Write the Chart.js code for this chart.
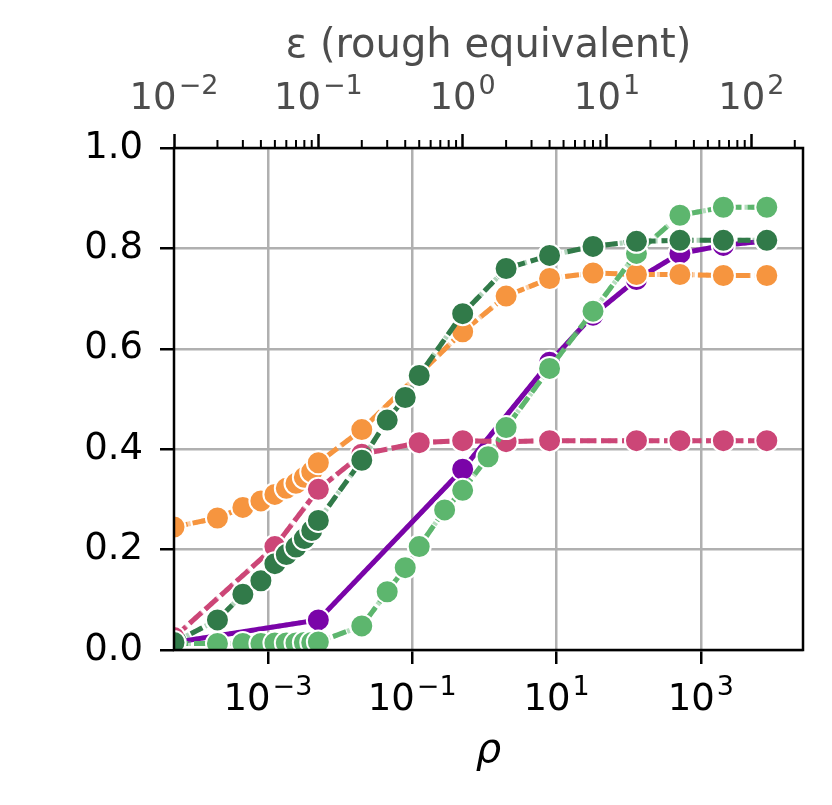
<!DOCTYPE html>
<html>
<head>
<meta charset="utf-8">
<script src="https://cdn.jsdelivr.net/npm/chart.js@4.4.1/dist/chart.umd.min.js"></script>
<style>
  html, body { margin: 0; padding: 0; background: #fff; }
  #wrap { width: 832px; height: 805px; }
</style>
</head>
<body>
<div id="wrap"><canvas id="chart" width="832" height="805"></canvas></div>
<script>
// rho values (each point sits at rho = eps^2 / 2 on the bottom axis)
const rhoPurple = [5e-5, 5e-3, 0.5, 8, 32, 128, 512, 2048, 8192];
const valPurple = [0.015, 0.06, 0.36, 0.573, 0.667, 0.738, 0.79, 0.806, 0.815];

const rhoOrange = [5e-5, 2e-4, 4.5e-4, 8e-4, 1.25e-3, 1.8e-3, 2.45e-3, 3.2e-3, 4.05e-3, 5e-3,
                   0.02, 0.5, 2, 8, 32, 128, 512, 2048, 8192];
const valOrange = [0.245, 0.263, 0.284, 0.297, 0.31, 0.322, 0.332, 0.344, 0.355, 0.373,
                   0.439, 0.634, 0.705, 0.74, 0.751, 0.748, 0.748, 0.746, 0.746];

const rhoPink = [5e-5, 1.25e-3, 5e-3, 0.02, 0.125, 0.5, 2, 8, 128, 512, 2048, 8192];
const valPink = [0.025, 0.206, 0.32, 0.39, 0.413, 0.417, 0.415, 0.417, 0.417, 0.417, 0.417, 0.417];

const rhoDarkGreen = [5e-5, 2e-4, 4.5e-4, 8e-4, 1.25e-3, 1.8e-3, 2.45e-3, 3.2e-3, 4.05e-3, 5e-3,
                      0.02, 0.045, 0.08, 0.125, 0.5, 2, 8, 32, 128, 512, 2048, 8192];
const valDarkGreen = [0.015, 0.06, 0.111, 0.138, 0.172, 0.19, 0.205, 0.222, 0.238, 0.258,
                      0.378, 0.458, 0.503, 0.547, 0.67, 0.76, 0.786, 0.804, 0.814, 0.816, 0.816, 0.816];

const rhoLightGreen = [5e-5, 2e-4, 4.5e-4, 8e-4, 1.25e-3, 1.8e-3, 2.45e-3, 3.2e-3, 4.05e-3, 5e-3,
                       0.02, 0.045, 0.08, 0.125, 0.28125, 0.5, 1.125, 2, 8, 32, 128, 512, 2048, 8192];
const valLightGreen = [0.013, 0.013, 0.013, 0.013, 0.014, 0.014, 0.014, 0.015, 0.015, 0.016,
                       0.048, 0.116, 0.164, 0.206, 0.279, 0.318, 0.385, 0.443, 0.561, 0.675, 0.79, 0.866, 0.882, 0.882];

// axis ticks; the power labels are drawn as "10" plus a raised exponent
const rhoTicks = [1e-3, 1e-1, 1e1, 1e3];
const rhoTickExp = ['−3', '−1', '1', '3'];
const epsTicks = [1e-2, 1e-1, 1, 10, 100];
const epsTickExp = ['−2', '−1', '0', '1', '2'];
const yTicks = [0, 0.2, 0.4, 0.6, 0.8, 1.0];

const RHO_MIN = 5e-5, RHO_MAX = 2.6e4;
const FONT = 'DejaVu Sans';
const TICK_SIZE = 37, SUP_SIZE = 27;

function pts(xs, ys) {
  return xs.map((x, i) => ({ x: x, y: ys[i] }));
}

function series(xs, ys, color, dash, order) {
  return {
    data: pts(xs, ys),
    borderColor: color,
    backgroundColor: color,
    borderWidth: 5,
    borderDash: dash,
    pointRadius: 11.5,
    pointBorderWidth: 2,
    pointBorderColor: '#ffffff',
    pointBackgroundColor: color,
    tension: 0,
    order: order
  };
}

// faint dotted copy that shows through the gaps of each dashed line
function ghost(xs, ys, color, order) {
  return {
    data: pts(xs, ys),
    borderColor: color,
    borderWidth: 5,
    borderDash: [3, 4],
    pointRadius: 0,
    tension: 0,
    order: order
  };
}

function drawPower(ctx, x, baseY, exp, color) {
  const base = TICK_SIZE + 'px "' + FONT + '"';
  const sup = SUP_SIZE + 'px "' + FONT + '"';
  ctx.font = base;
  const wb = ctx.measureText('10').width;
  ctx.font = sup;
  const we = ctx.measureText(exp).width;
  const gap = 2;
  const x0 = x - (wb + gap + we) / 2;
  ctx.fillStyle = color;
  ctx.textAlign = 'left';
  ctx.textBaseline = 'alphabetic';
  ctx.font = base;
  ctx.fillText('10', x0, baseY);
  ctx.font = sup;
  ctx.fillText(exp, x0 + wb + gap, baseY - 15);
}

// box round the plot, short minor ticks on the top axis, power tick labels
const framePlugin = {
  id: 'frame',
  afterDatasetsDraw(chart) {
    const { ctx, chartArea: a } = chart;
    const top = chart.scales.x2;
    const bottom = chart.scales.x;
    ctx.save();
    ctx.strokeStyle = '#000';
    ctx.lineWidth = 2.5;
    ctx.strokeRect(a.left, a.top, a.right - a.left, a.bottom - a.top);
    ctx.lineWidth = 2;
    for (let d = -2; d <= 2; d++) {
      for (let m = 2; m <= 9; m++) {
        const v = m * Math.pow(10, d);
        if (v > top.max) continue;
        const px = top.getPixelForValue(v);
        ctx.beginPath();
        ctx.moveTo(px, a.top);
        ctx.lineTo(px, a.top - 8);
        ctx.stroke();
      }
    }
    rhoTicks.forEach((v, i) => drawPower(ctx, bottom.getPixelForValue(v), a.bottom + 60, rhoTickExp[i], '#000'));
    epsTicks.forEach((v, i) => drawPower(ctx, top.getPixelForValue(v), a.top - 39, epsTickExp[i], '#4d4d4d'));
    ctx.restore();
  }
};

new Chart(document.getElementById('chart'), {
  type: 'line',
  data: {
    datasets: [
      series(rhoPurple, valPurple, '#7a04a8', [], 5),
      ghost(rhoPurple, valPurple, 'rgba(160,80,210,0.55)', 5.5),
      series(rhoOrange, valOrange, '#f6953f', [14, 5], 4),
      ghost(rhoOrange, valOrange, 'rgba(246,149,63,0.45)', 4.5),
      series(rhoPink, valPink, '#cc4677', [16, 5], 3),
      ghost(rhoPink, valPink, 'rgba(204,70,119,0.45)', 3.5),
      series(rhoLightGreen, valLightGreen, '#5db66e', [14, 6], 2),
      ghost(rhoLightGreen, valLightGreen, 'rgba(93,182,110,0.45)', 2.5),
      series(rhoDarkGreen, valDarkGreen, '#317a49', [13, 6], 1),
      ghost(rhoDarkGreen, valDarkGreen, 'rgba(100,170,120,0.5)', 1.5)
    ]
  },
  options: {
    responsive: false,
    animation: false,
    devicePixelRatio: 1,
    layout: { padding: { left: 0, right: 29, top: 0, bottom: 0 } },
    plugins: { legend: { display: false }, tooltip: { enabled: false } },
    scales: {
      x: {
        type: 'logarithmic',
        position: 'bottom',
        min: RHO_MIN,
        max: RHO_MAX,
        afterBuildTicks: s => { s.ticks = rhoTicks.map(v => ({ value: v })); },
        afterFit: s => { s.height = 155; },
        ticks: { display: false, autoSkip: false, maxRotation: 0 },
        grid: { color: '#b0b0b0', lineWidth: 2.5, tickColor: '#000', tickWidth: 2.5, tickLength: 14 },
        border: { display: false },
        title: {
          display: true, text: 'ρ', color: '#000',
          font: { family: FONT, size: 40, style: 'italic' },
          padding: { top: 0, bottom: 29 }
        }
      },
      x2: {
        type: 'logarithmic',
        position: 'top',
        min: 1e-2,
        max: Math.sqrt(2 * RHO_MAX),
        afterBuildTicks: s => { s.ticks = epsTicks.map(v => ({ value: v })); },
        afterFit: s => { s.height = 148; },
        ticks: { display: false, autoSkip: false, maxRotation: 0 },
        grid: { drawOnChartArea: false, tickColor: '#000', tickWidth: 2.5, tickLength: 14 },
        border: { display: false },
        title: {
          display: true, text: 'ε (rough equivalent)', color: '#4d4d4d',
          font: { family: FONT, size: 40 },
          padding: { top: 23, bottom: 0 }
        }
      },
      y: {
        type: 'linear',
        min: 0,
        max: 1,
        afterBuildTicks: s => { s.ticks = yTicks.map(v => ({ value: v })); },
        afterFit: s => { s.width = 174; },
        ticks: {
          padding: 17, color: '#000',
          font: { family: FONT, size: TICK_SIZE },
          callback: v => v.toFixed(1)
        },
        grid: { color: '#b0b0b0', lineWidth: 2.5, tickColor: '#000', tickWidth: 2.5, tickLength: 14 },
        border: { display: false }
      }
    }
  },
  plugins: [framePlugin]
});
</script>
</body>
</html>
